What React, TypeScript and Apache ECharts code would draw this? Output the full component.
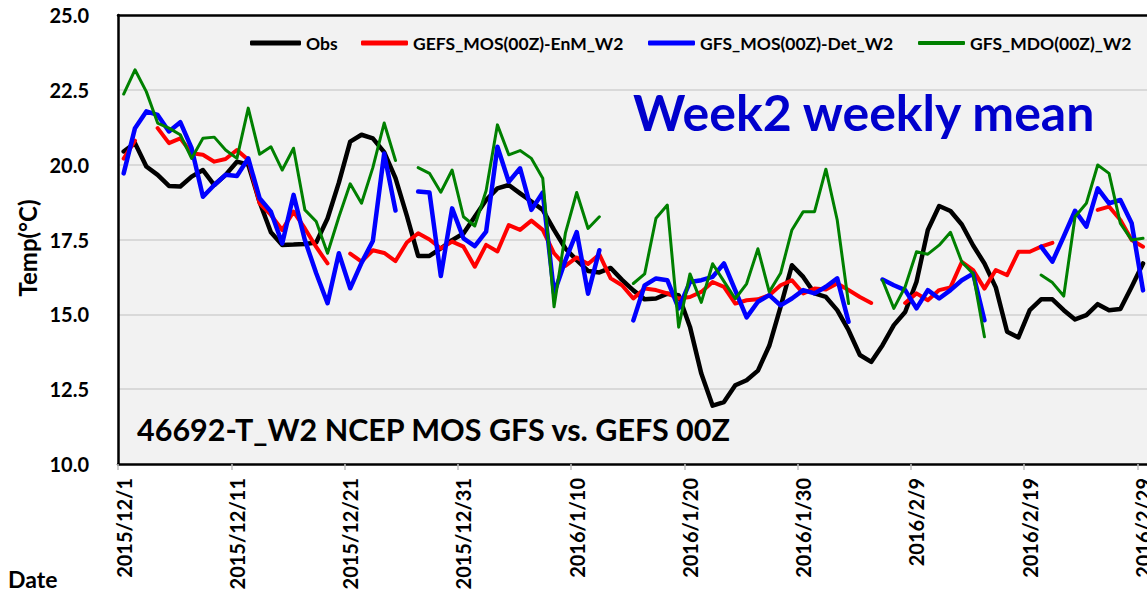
import React, { useEffect, useRef } from "react";
import * as echarts from "echarts";

const START = Date.UTC(2015, 11, 1);
const DAY_COUNT = 91;
const dates: string[] = Array.from({ length: DAY_COUNT }, (_, i) => {
  const d = new Date(START + i * 86400000);
  return `${d.getUTCFullYear()}/${d.getUTCMonth() + 1}/${d.getUTCDate()}`;
});

const seriesNames = ["Obs", "GEFS_MOS(00Z)-EnM_W2", "GFS_MOS(00Z)-Det_W2", "GFS_MDO(00Z)_W2"];
const seriesColors = ["#000000", "#ff0000", "#0000ff", "#008000"];
const seriesWidths = [4.5, 4, 4.5, 3];

const obs: (number | null)[] = [
  20.44, 20.72, 19.94, 19.66, 19.29, 19.27, 19.6, 19.82, 19.32, 19.66,
  20.1, 20.0, 18.75, 17.74, 17.32, 17.33, 17.35, 17.4, 18.2, 19.4,
  20.77, 21.0, 20.88, 20.42, 19.55, 18.3, 16.95, 16.95, 17.2, 17.48,
  17.7, 18.26, 18.82, 19.21, 19.32, 19.04, 18.77, 18.49, 17.82, 17.2,
  16.81, 16.45, 16.4, 16.55, 16.15, 15.8, 15.5, 15.53, 15.69, 15.64,
  14.58, 13.02, 11.95, 12.07, 12.63, 12.8, 13.12, 13.95, 15.25, 16.64,
  16.25, 15.7, 15.58, 15.14, 14.47, 13.64, 13.41, 13.97, 14.64, 15.08,
  16.09, 17.82, 18.62, 18.45, 18.0, 17.3, 16.7, 15.9, 14.42, 14.23,
  15.14, 15.5, 15.5, 15.14, 14.83, 14.97, 15.34, 15.14, 15.18, 15.92,
  16.7,
];

const gefsEnM: (number | null)[] = [
  20.2, 20.8, null, 21.22, 20.72, 20.88, 20.38, 20.33, 20.1, 20.19,
  20.49, 20.16, 18.71, 18.32, 17.82, 18.43, 17.87, 17.25, 16.7, null,
  17.03, 16.76, 17.14, 17.05, 16.78, 17.4, 17.71, 17.5, 17.2, 17.43,
  17.26, 16.59, 17.32, 17.1, 17.98, 17.82, 18.13, 17.82, 17.04, 16.62,
  16.9, 16.68, 17.0, 16.2, 15.97, 15.53, 15.86, 15.81, 15.7, 15.53,
  15.58, 15.75, 16.08, 15.92, 15.36, 15.47, 15.5, 15.64, 15.97, 16.14,
  15.7, 15.86, 15.83, 16.03, 15.81, 15.58, 15.38, null, null, 15.38,
  15.7, 15.47, 15.81, 15.9, 16.75, 16.48, 15.86, 16.48, 16.31, 17.09,
  17.09, 17.26, 17.39, null, null, null, 18.49, 18.6, 18.15, 17.48,
  17.26,
];

const gfsDet: (number | null)[] = [
  19.71, 21.22, 21.78, 21.66, 21.11, 21.42, 20.55, 18.93, 19.32, 19.66,
  19.62, 20.21, 18.88, 18.43, 17.37, 18.99, 17.48, 16.37, 15.37, 17.04,
  15.87, 16.72, 17.45, 20.37, 18.47, null, 19.1, 19.07, 16.28, 18.54,
  17.54, 17.28, 17.76, 20.6, 19.43, 19.88, 18.49, 19.07, 15.7, 16.8,
  17.75, 15.69, 17.14, null, null, 14.8, 15.97, 16.2, 16.14, 15.2,
  16.08, 16.14, 16.25, 16.7, 15.8, 14.9, 15.42, 15.64, 15.3, 15.53,
  15.81, 15.7, 15.92, 16.2, 14.75, null, null, 16.16, 15.97, 15.81,
  15.2, 15.81, 15.53, 15.81, 16.14, 16.36, 14.8, null, null, null,
  null, 17.26, 16.76, 17.6, 18.46, 17.93, 19.21, 18.71, 18.82, 18.04,
  15.8,
];

const gfsMdo: (number | null)[] = [
  22.36, 23.17, 22.44, 21.39, 21.22, 21.0, 20.21, 20.88, 20.92, 20.49,
  20.21, 21.89, 20.35, 20.6, 19.82, 20.55, 18.49, 18.1, 17.04, 18.25,
  19.36, 18.71, 19.9, 21.39, 20.14, null, 19.9, 19.71, 19.08, 19.82,
  18.26, 17.95, 19.13, 21.33, 20.33, 20.47, 20.21, 19.55, 15.25, 17.71,
  19.07, 17.87, 18.26, null, null, 16.03, 16.35, 18.21, 18.65, 14.57,
  16.35, 15.4, 16.69, 16.1, 15.52, 16.02, 17.19, 15.75, 16.37, 17.82,
  18.43, 18.43, 19.85, 18.15, 15.36, null, null, 16.14, 15.2, 15.92,
  17.09, 17.01, 17.31, 17.74, 16.75, 16.36, 14.25, null, null, null,
  null, 16.31, 16.06, 15.61, 18.26, 18.71, 19.99, 19.71, 18.04, 17.48,
  17.54,
];

const allSeries = [obs, gefsEnM, gfsDet, gfsMdo];

const yTicks = { min: 10, max: 25, step: 2.5 };
const FONT = "Lato";

export default function App() {
  const ref = useRef<HTMLDivElement>(null);
  useEffect(() => {
    if (!ref.current) return;
    const chart = echarts.init(ref.current, undefined, { renderer: "svg" });
    const legendLefts = [250, 361, 648, 918];
    const legendWidths = [51, 47, 47, 47];
    chart.setOption({
      animation: false,
      backgroundColor: "#ffffff",
      grid: {
        left: 118,
        right: 0,
        top: 15,
        bottom: 138,
        show: true,
        backgroundColor: "#f2f2f2",
        borderWidth: 0,
      },
      legend: seriesNames.map((n, i) => ({
        data: [n],
        left: legendLefts[i],
        top: 33,
        padding: 0,
        icon: "roundRect",
        itemWidth: legendWidths[i],
        itemHeight: i === 3 ? 4 : 5,
        selectedMode: false,
        textStyle: {
          fontFamily: FONT,
          fontWeight: "bold",
          fontSize: 17.5,
          color: "#000",
          lineHeight: 20,
        },
      })),
      xAxis: [
        {
          type: "category",
          data: dates,
          boundaryGap: true,
          axisLine: { show: true, lineStyle: { color: "#000", width: 2.5 } },
          axisTick: {
            show: true,
            interval: 9,
            length: 6,
            lineStyle: { color: "#bfbfbf", width: 1.5 },
          },
          axisLabel: {
            interval: 9,
            rotate: 90,
            margin: 14,
            fontFamily: FONT,
            fontWeight: "bold",
            fontSize: 20,
            color: "#000",
          },
          splitLine: { show: false },
        },
        {
          type: "category",
          data: dates,
          position: "top",
          boundaryGap: true,
          axisLine: { show: true, lineStyle: { color: "#000", width: 2.5 } },
          axisTick: { show: false },
          axisLabel: { show: false },
          splitLine: { show: false },
        },
      ],
      yAxis: {
        type: "value",
        min: yTicks.min,
        max: yTicks.max,
        interval: yTicks.step,
        axisLine: { show: true, lineStyle: { color: "#000", width: 2.5 } },
        axisTick: { show: false },
        splitLine: {
          show: true,
          showMinLine: false,
          showMaxLine: false,
          lineStyle: { color: "#d9d9d9", width: 2 },
        },
        axisLabel: {
          margin: 29,
          fontFamily: FONT,
          fontWeight: "bold",
          fontSize: 20,
          color: "#000",
          formatter: (v: number) => v.toFixed(1),
        },
      },
      series: seriesNames.map((n, i) => ({
        name: n,
        type: "line",
        data: allSeries[i],
        xAxisIndex: 0,
        yAxisIndex: 0,
        symbol: "none",
        showSymbol: false,
        connectNulls: false,
        color: seriesColors[i],
        itemStyle: { color: seriesColors[i] },
        lineStyle: {
          color: seriesColors[i],
          width: seriesWidths[i],
          cap: "round",
          join: "round",
        },
        z: 2 + i,
      })),
      graphic: [
        {
          type: "text",
          left: 633,
          top: 87,
          style: {
            text: "Week2 weekly mean",
            fill: "#0000cc",
            font: `bold 50px ${FONT}`,
          },
          z: 100,
        },
        {
          type: "text",
          left: 137,
          top: 413,
          style: {
            text: "46692-T_W2 NCEP MOS GFS vs. GEFS 00Z",
            fill: "#000",
            font: `bold 30.5px ${FONT}`,
          },
          z: 100,
        },
        {
          type: "text",
          x: 27,
          y: 248,
          rotation: Math.PI / 2,
          style: {
            text: "Temp(°C)",
            fill: "#000",
            font: `bold 24px ${FONT}`,
            align: "center",
            verticalAlign: "middle",
          },
          z: 100,
        },
        {
          type: "text",
          left: 8,
          top: 567,
          style: {
            text: "Date",
            fill: "#000",
            font: `bold 23px ${FONT}`,
          },
          z: 100,
        },
      ],
    });
    return () => chart.dispose();
  }, []);
  return (
    <div style={{ position: "fixed", left: 0, top: 0, width: 1147, height: 602, overflow: "hidden", background: "#fff" }}>
      <div ref={ref} style={{ position: "absolute", left: 0, top: 0, width: 1153, height: 602 }} />
    </div>
  );
}
